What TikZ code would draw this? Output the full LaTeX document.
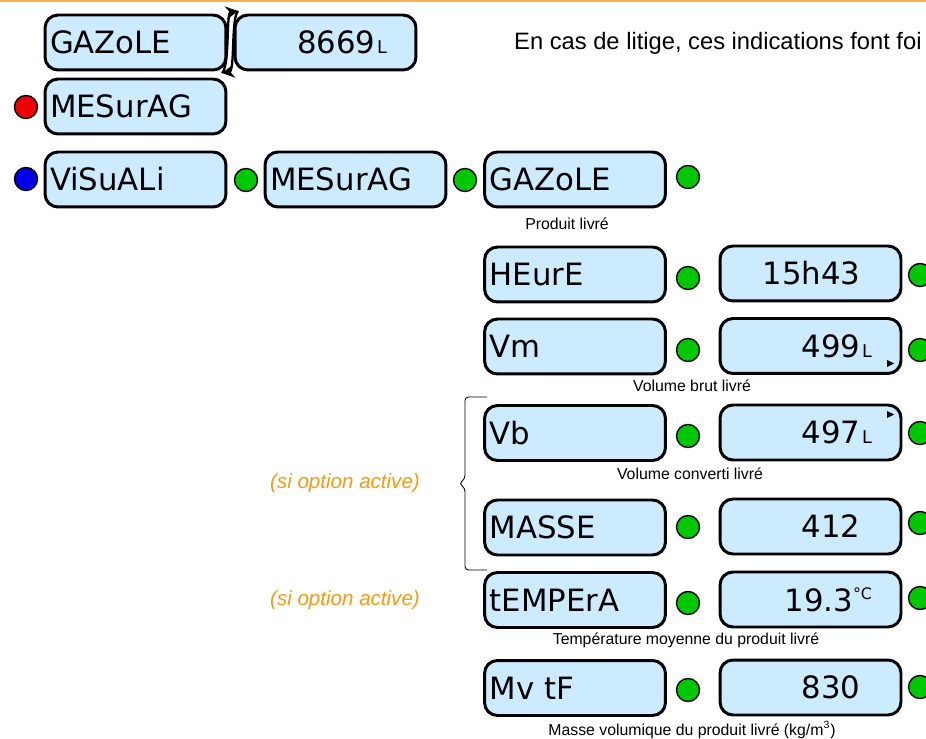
\documentclass[tikz,border=0pt]{standalone}
\usepackage{fontspec}
\setmainfont{Liberation Sans}
\newfontfamily\lcdfont{DejaVu Sans}
\usetikzlibrary{arrows.meta}

\definecolor{boxblue}{RGB}{204,235,255}
\definecolor{ledgreen}{RGB}{0,200,0}
\definecolor{ledred}{RGB}{240,0,0}
\definecolor{ledblue}{RGB}{0,0,235}
\definecolor{optorange}{RGB}{243,156,18}
\definecolor{rulorange}{RGB}{250,175,80}

\newcommand\unitL{\kern1pt{\fontsize{10}{10}\selectfont L}}
\newcommand\unitC{\raisebox{7pt}{\fontsize{9}{9}\selectfont °C}}

\begin{document}
\begin{tikzpicture}[x=0.02cm, y=-0.02cm,
	label/.style = {draw, line width=1.7pt, rounded corners=0.26cm, fill=boxblue, minimum width=3.62cm, minimum height=1.1cm, inner xsep=0.1cm, text width=3.42cm, align=left, font=\lcdfont\fontsize{17.5}{17.5}\selectfont},
	value/.style = {label, inner xsep=0.58cm, text width=2.46cm, align=right},
	led/.style = {draw, circle, line width=0.8pt, minimum size=0.46cm, inner sep=0pt},
	note/.style = {font=\fontsize{9}{10}\selectfont},
	option/.style = {text=optorange, font=\itshape\fontsize{11.7}{12}\selectfont}]
	\useasboundingbox (0,0) rectangle (926,739);
	\draw[rulorange, line width=1.2pt] (0,1) -- (926,1);

	% rangee du haut
	\node[label] (gaz1) at (135.5,42.5) {GAZoLE};
	\node[value] (val1) at (325.5,42.5) {8669\unitL};
	\node[label] (mes1) at (135.5,106.5) {MESurAG};
	\node[led, fill=ledred] (r1) at (26,107) {};
	\node[anchor=west, font=\fontsize{13.5}{14}\selectfont] (foi) at (508,43) {En cas de litige, ces indications font foi};

	\coordinate (tg) at (238,11);
	\coordinate (bg) at (222,73);
	\draw[-{Stealth[length=7pt,width=7.5pt]}, line width=1.3pt] (bg) .. controls (230,66) and (226,13) .. (tg);
	\draw[-{Stealth[length=7pt,width=7.5pt]}, line width=1.3pt] (tg) .. controls (231,18) and (235,71) .. (bg);

	% menu
	\node[led, fill=ledblue] (b1) at (26,179) {};
	\node[label] (visu) at (135.5,179.5) {ViSuALi};
	\node[led, fill=ledgreen] (g1) at (246,180) {};
	\node[label] (mes2) at (355.5,179.5) {MESurAG};
	\node[led, fill=ledgreen] (g2) at (465,180) {};
	\node[label] (gaz2) at (575,179.5) {GAZoLE};
	\node[led, fill=ledgreen] (g3) at (688,177) {};
	\node[note] (n1) at (567,224) {Produit livré};

	% indications
	\node[label] (heure) at (575,274.5) {HEurE};
	\node[led, fill=ledgreen] (g4) at (688,278) {};
	\node[value] (vheure) at (810.5,273.5) {15h43\phantom{\unitL}};
	\node[led, fill=ledgreen] (g5) at (920,275) {};

	\node[label] (vm) at (575,346.5) {Vm};
	\node[led, fill=ledgreen] (g6) at (688,350) {};
	\node[value] (vvm) at (810.5,346) {499\unitL};
	\node[led, fill=ledgreen] (g7) at (920,350) {};
	\fill (887,360) -- (894,363.5) -- (887,367) -- cycle;
	\node[note] (n2) at (692,386) {Volume brut livré};

	\node[label] (vb) at (575,433) {Vb};
	\node[led, fill=ledgreen] (g8) at (688,436) {};
	\node[value] (vvb) at (810.5,432.5) {497\unitL};
	\node[led, fill=ledgreen] (g9) at (920,433) {};
	\fill (887,411) -- (894,414.5) -- (887,418) -- cycle;
	\node[note] (n3) at (690,474) {Volume converti livré};

	\node[label] (masse) at (575,527.5) {MASSE};
	\node[led, fill=ledgreen] (g10) at (688,527) {};
	\node[value] (vmasse) at (810.5,526.5) {412\phantom{\unitL}};
	\node[led, fill=ledgreen] (g11) at (920,523) {};

	\draw[line width=0.5pt, rounded corners=2pt] (487,397) -- (465,397) -- (465,479) -- (459,483.5) -- (465,488) -- (465,570) -- (487,570);
	\node[option] (opt1) at (345,483) {(si option active)};

	\node[label] (temp) at (575,600) {tEMPErA};
	\node[led, fill=ledgreen] (g12) at (688,603) {};
	\node[value] (vtemp) at (810.5,599.5) {19.3\unitC};
	\node[led, fill=ledgreen] (g13) at (920,598) {};
	\node[option] (opt2) at (345,600) {(si option active)};
	\node[note] (n4) at (686,640) {Température moyenne du produit livré};

	\node[label] (mvtf) at (575,688) {Mv tF};
	\node[led, fill=ledgreen] (g14) at (688,690) {};
	\node[value] (vmvtf) at (810.5,687.5) {830\phantom{\unitL}};
	\node[led, fill=ledgreen] (g15) at (920,687) {};
	\node[note] (n5) at (692,730) {Masse volumique du produit livré (kg/m\textsuperscript{3})};
\end{tikzpicture}
\end{document}
